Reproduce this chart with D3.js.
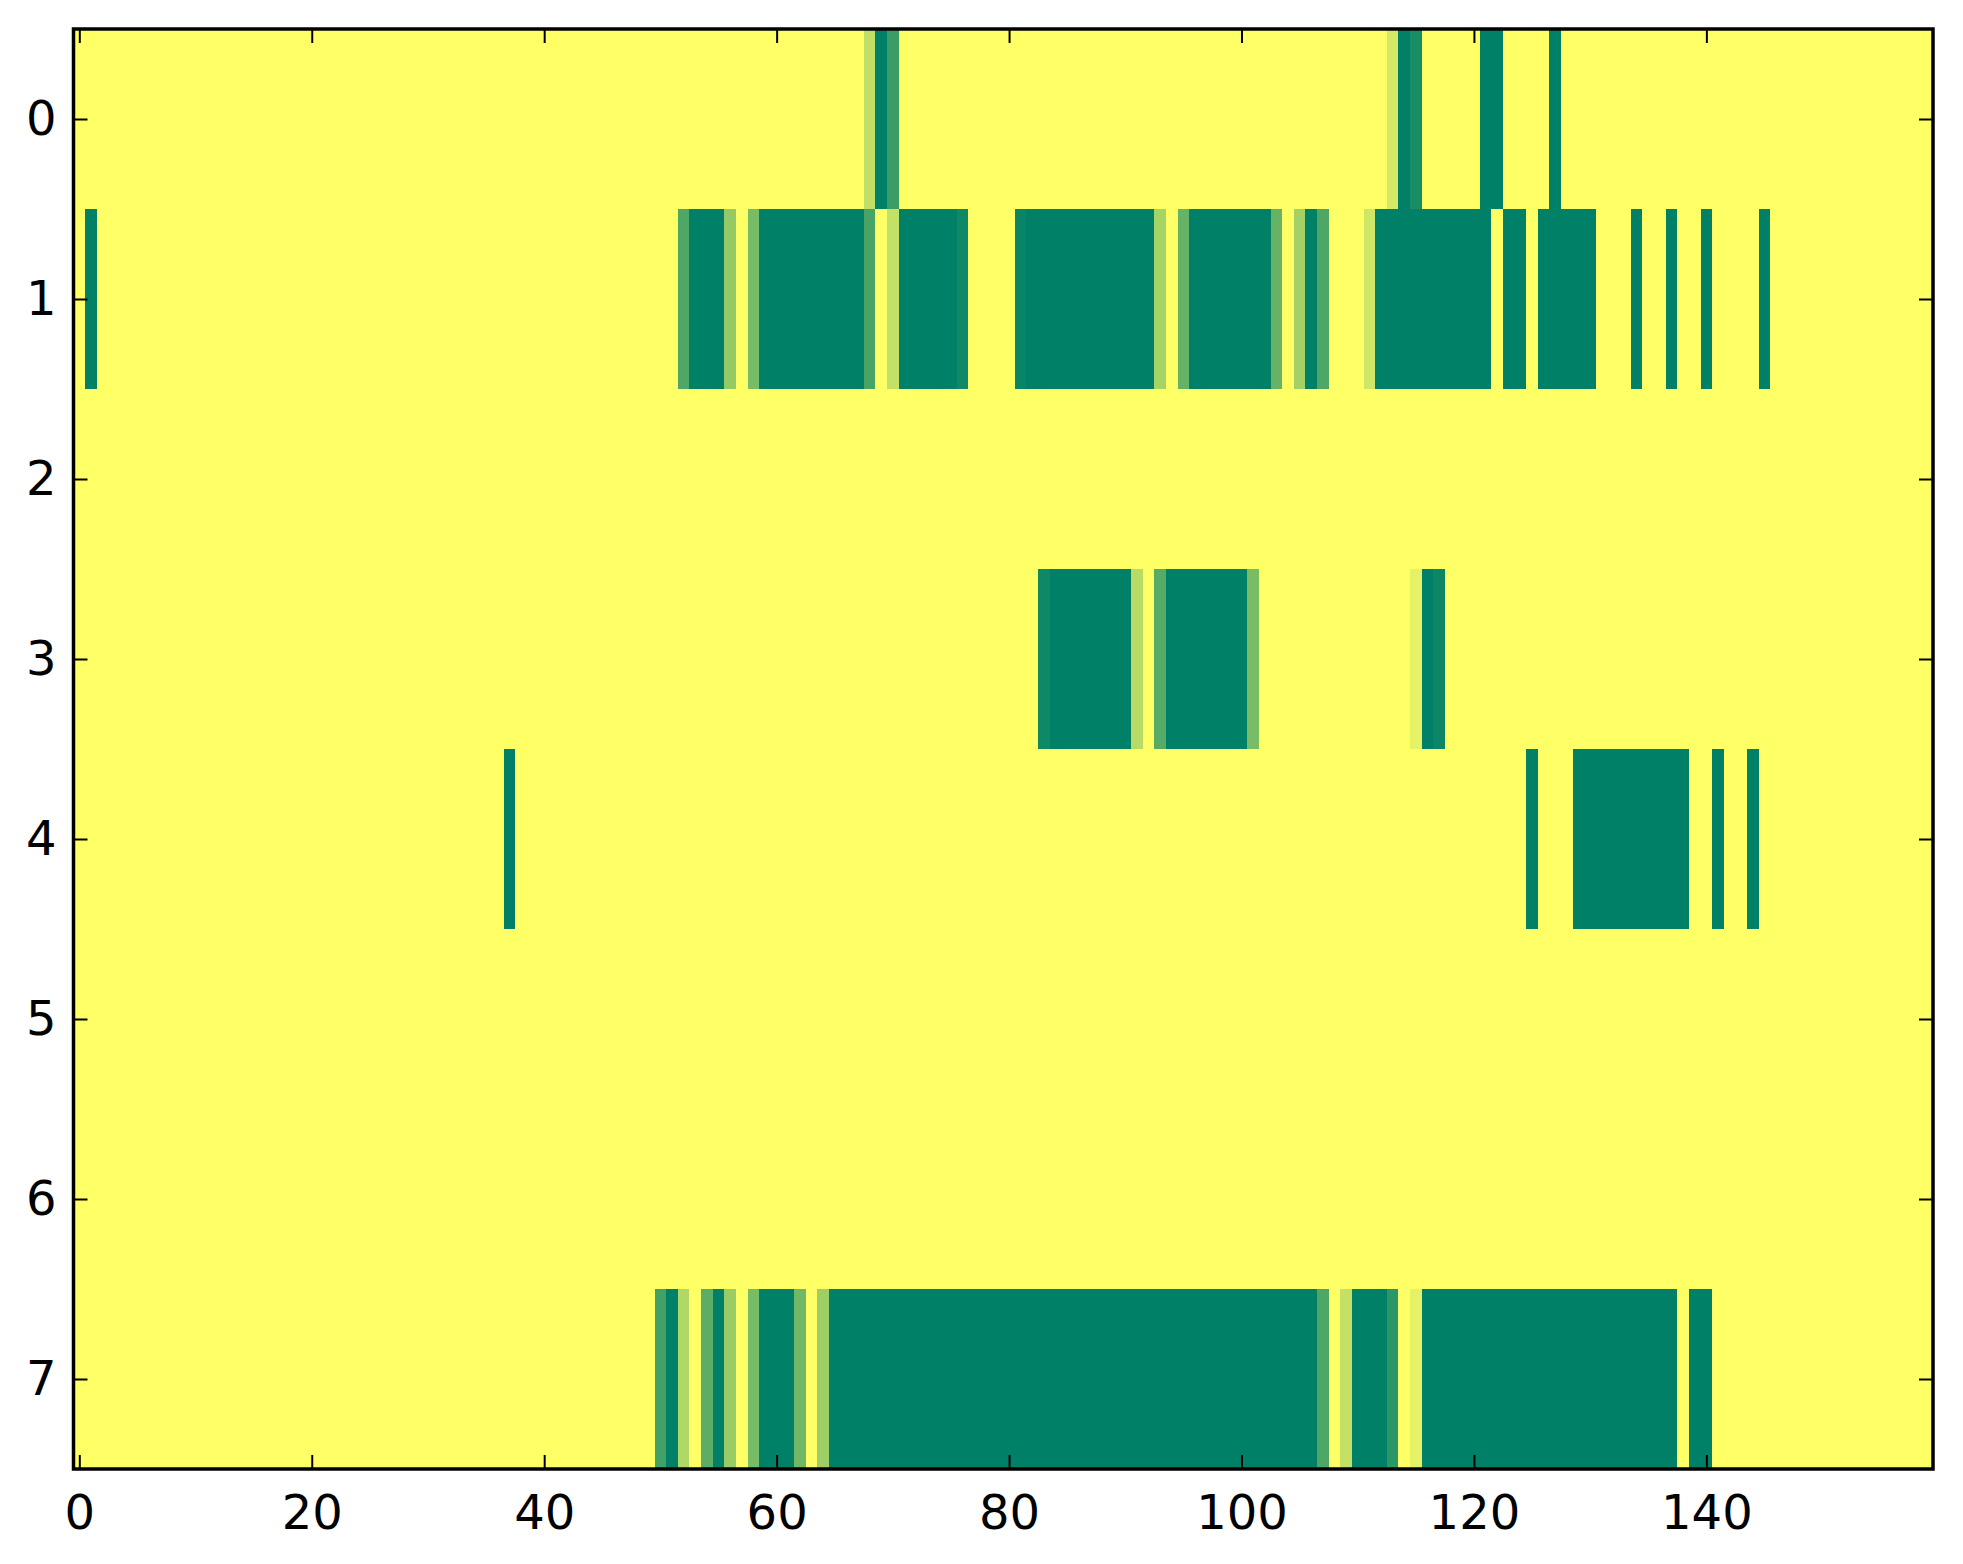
<!DOCTYPE html>
<html lang="en">
<head>
    <meta charset="UTF-8">
    <title>Heatmap</title>
    <script src="https://d3js.org/d3.v7.min.js"></script>
    <style>
        body { margin: 0; background: #fff; }
        .tick text { font-family: "DejaVu Sans", sans-serif; font-size: 48px; fill: #000; }
    </style>
</head>
<body>
    <div id="chart"></div>
    <script>
        // grid size
        const nCols = 160;
        const rowLabels = [0, 1, 2, 3, 4, 5, 6, 7];
        const xTicks = [0, 20, 40, 60, 80, 100, 120, 140];

        // non-zero cells per row, as runs: [fromCol, toCol, value]
        const row0 = [[68, 68, 0.25], [69, 69, 1], [70, 70, 0.77], [113, 113, 0.17], [114, 114, 1],
            [115, 115, 0.9], [121, 122, 1], [127, 127, 1]];
        const row1 = [[1, 1, 1], [52, 52, 0.69], [53, 55, 1], [56, 56, 0.42], [58, 58, 0.53],
            [59, 67, 1], [68, 68, 0.72], [70, 70, 0.24], [71, 75, 1], [76, 76, 0.94],
            [81, 81, 0.97], [82, 92, 1], [93, 93, 0.35], [95, 95, 0.6], [96, 102, 1],
            [103, 103, 0.6], [105, 105, 0.36], [106, 106, 1], [107, 107, 0.69], [111, 111, 0.19],
            [112, 121, 1], [123, 124, 1], [126, 130, 1], [134, 134, 1], [137, 137, 1],
            [140, 140, 1], [145, 145, 1]];
        const row2 = [];
        const row3 = [[83, 83, 0.94], [84, 90, 1], [91, 91, 0.28], [93, 93, 0.66], [94, 100, 1],
            [101, 101, 0.53], [115, 115, 0.1], [116, 116, 1], [117, 117, 0.95]];
        const row4 = [[37, 37, 1], [125, 125, 1], [129, 138, 1], [141, 141, 1], [144, 144, 1]];
        const row5 = [];
        const row6 = [];
        const row7 = [[50, 50, 0.74], [51, 51, 1], [52, 52, 0.31], [54, 54, 0.64], [55, 55, 1],
            [56, 56, 0.4], [58, 58, 0.53], [59, 61, 1], [62, 62, 0.56], [64, 64, 0.38],
            [65, 106, 1], [107, 107, 0.69], [109, 109, 0.24], [110, 112, 1], [113, 113, 0.83],
            [115, 115, 0.1], [116, 137, 1], [139, 140, 1]];
        const rows = [row0, row1, row2, row3, row4, row5, row6, row7];

        // full table of cells
        const cells = [];
        rows.forEach((runs, r) => {
            const vals = new Array(nCols).fill(0);
            runs.forEach(([a, b, v]) => { for (let c = a; c <= b; c++) vals[c] = v; });
            vals.forEach((v, c) => cells.push({ row: r, col: c, value: v }));
        });

        const width = 1963, height = 1564;
        const plotLeft = 73.5, plotRight = 1933, plotTop = 29, plotBottom = 1469;

        const svg = d3.select("#chart").append("svg")
            .attr("width", width)
            .attr("height", height);

        const x = d3.scaleLinear().domain([-0.5, nCols - 0.5]).range([plotLeft, plotRight]);
        const y = d3.scaleLinear().domain([-0.5, rowLabels.length - 0.5]).range([plotTop, plotBottom]);

        // summer_r colormap
        const color = d3.scaleLinear().domain([0, 1]).range(["#ffff66", "#008066"]);

        svg.append("g")
            .selectAll("rect")
            .data(cells)
            .join("rect")
            .attr("x", d => x(d.col - 0.5))
            .attr("y", d => y(d.row - 0.5))
            .attr("width", x(1) - x(0) + 0.4)
            .attr("height", y(1) - y(0) + 0.4)
            .attr("fill", d => color(d.value))
            .attr("shape-rendering", "crispEdges");

        // axes, ticks inside on all four sides
        const tickLen = 14;
        function styleAxis(g) {
            g.select(".domain").remove();
            g.selectAll(".tick line").attr("stroke", "#000").attr("stroke-width", 2);
        }

        svg.append("g")
            .attr("transform", `translate(0,${plotBottom})`)
            .call(d3.axisBottom(x).tickValues(xTicks).tickSize(-tickLen).tickPadding(26))
            .call(styleAxis);

        svg.append("g")
            .attr("transform", `translate(0,${plotTop})`)
            .call(d3.axisTop(x).tickValues(xTicks).tickSize(-tickLen).tickFormat(""))
            .call(styleAxis);

        svg.append("g")
            .attr("transform", `translate(${plotLeft},0)`)
            .call(d3.axisLeft(y).tickValues(rowLabels).tickSize(-tickLen).tickPadding(17))
            .call(styleAxis);

        svg.append("g")
            .attr("transform", `translate(${plotRight},0)`)
            .call(d3.axisRight(y).tickValues(rowLabels).tickSize(-tickLen).tickFormat(""))
            .call(styleAxis);

        // frame
        svg.append("rect")
            .attr("x", plotLeft)
            .attr("y", plotTop)
            .attr("width", plotRight - plotLeft)
            .attr("height", plotBottom - plotTop)
            .attr("fill", "none")
            .attr("stroke", "#000")
            .attr("stroke-width", 3.5);
    </script>
</body>
</html>
